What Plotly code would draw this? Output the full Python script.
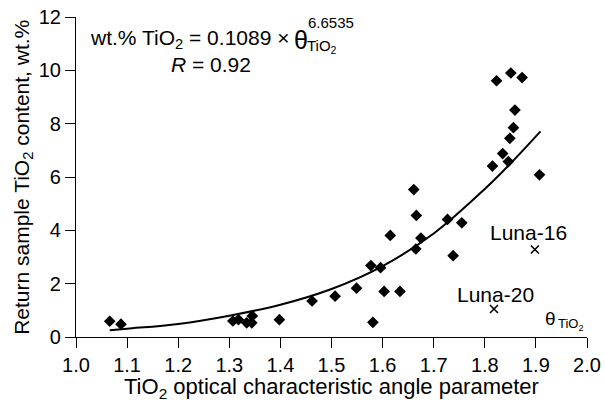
import plotly.graph_objects as go

# Sample data
theta = [1.066, 1.088, 1.307, 1.318, 1.334, 1.344, 1.345, 1.398, 1.462, 1.507,
         1.549, 1.577, 1.581, 1.596, 1.603, 1.634, 1.615, 1.661, 1.666, 1.675,
         1.665, 1.727, 1.755, 1.738, 1.815, 1.823, 1.851, 1.873, 1.859, 1.856,
         1.849, 1.835, 1.846, 1.907]
tio2 = [0.59, 0.48, 0.60, 0.65, 0.53, 0.53, 0.79, 0.65, 1.35, 1.53,
        1.83, 2.68, 0.55, 2.60, 1.71, 1.71, 3.81, 5.53, 4.56, 3.71,
        3.30, 4.41, 4.28, 3.05, 6.41, 9.61, 9.90, 9.73, 8.51, 7.85,
        7.45, 6.88, 6.58, 6.08]

# Luna return samples
luna_names = ["Luna-16", "Luna-20"]
luna_theta = [1.898, 1.818]
luna_tio2 = [3.28, 1.05]

# Fitted curve as drawn
curve_x = [1.066, 1.1, 1.2, 1.3, 1.4, 1.5, 1.6, 1.7, 1.8, 1.85, 1.909]
curve_y = [0.25, 0.31, 0.49, 0.80, 1.21, 1.80, 2.66, 3.88, 5.55, 6.5, 7.71]

x_ticks = [1.0, 1.1, 1.2, 1.3, 1.4, 1.5, 1.6, 1.7, 1.8, 1.9, 2.0]
y_ticks = [0, 2, 4, 6, 8, 10, 12]

x_title = "TiO<sub>2</sub> optical characteristic angle parameter"
y_title = "Return sample TiO<sub>2</sub> content, wt.%"

FONT = "Liberation Sans, Arial, sans-serif"

fig = go.Figure()
fig.add_trace(go.Scatter(x=curve_x, y=curve_y, mode="lines",
                         line=dict(color="black", width=2, shape="spline"),
                         hoverinfo="skip", showlegend=False))
fig.add_trace(go.Scatter(x=theta, y=tio2, mode="markers",
                         marker=dict(symbol="diamond", size=9, color="black"),
                         showlegend=False))
fig.add_trace(go.Scatter(x=luna_theta, y=luna_tio2, mode="markers",
                         marker=dict(symbol="x-thin", size=8,
                                     line=dict(color="black", width=1.6)),
                         showlegend=False))

ann = []
def add(text, x, y, size, xanchor="center", yanchor="middle", ref="data", angle=0):
    xr, yr = ("x", "y") if ref == "data" else ("paper", "paper")
    ann.append(dict(text=text, x=x, y=y, xref=xr, yref=yr, showarrow=False,
                    xanchor=xanchor, yanchor=yanchor, textangle=angle,
                    font=dict(family=FONT, size=size, color="black")))

add("wt.% TiO<sub>2</sub> = 0.1089 ×", 1.0235, 11.16, 21, xanchor="left")
add("θ", 1.4225, 11.12, 25, xanchor="left")
add("6.6535", 1.450, 11.78, 15, xanchor="left")
add("TiO<sub>2</sub>", 1.449, 10.90, 15, xanchor="left")
add("<i>R</i> = 0.92", 1.264, 10.22, 21)
add(luna_names[0], 1.886, 3.92, 21)
add(luna_names[1], 1.820, 1.60, 21)
add("θ", 1.9295, 0.70, 19)
add("TiO<sub>2</sub>", 1.940, 0.46, 13, xanchor="left")
# axis titles
add(x_title, 0.5, -0.158, 22, ref="paper")
add(y_title, -0.104, 0.5, 21, ref="paper", angle=-90)

fig.update_layout(
    width=605, height=402,
    margin=dict(l=76, r=18, t=17, b=65),
    paper_bgcolor="white", plot_bgcolor="white",
    font=dict(family=FONT, size=20, color="black"),
    annotations=ann,
    xaxis=dict(range=[1.0, 2.0], tickvals=x_ticks,
               ticktext=[f"{v:.1f}" for v in x_ticks], automargin=False,
               showgrid=False, zeroline=False, showline=True, linecolor="black",
               linewidth=1.2, ticks="outside", ticklen=10, tickwidth=1.2,
               tickcolor="black", tickfont=dict(size=20)),
    yaxis=dict(range=[0, 12], tickvals=y_ticks, automargin=False,
               showgrid=False, zeroline=False, showline=True, linecolor="black",
               linewidth=1.2, ticks="outside", ticklen=10, tickwidth=1.2,
               tickcolor="black", tickfont=dict(size=20)),
)

fig.write_html("out.html")
